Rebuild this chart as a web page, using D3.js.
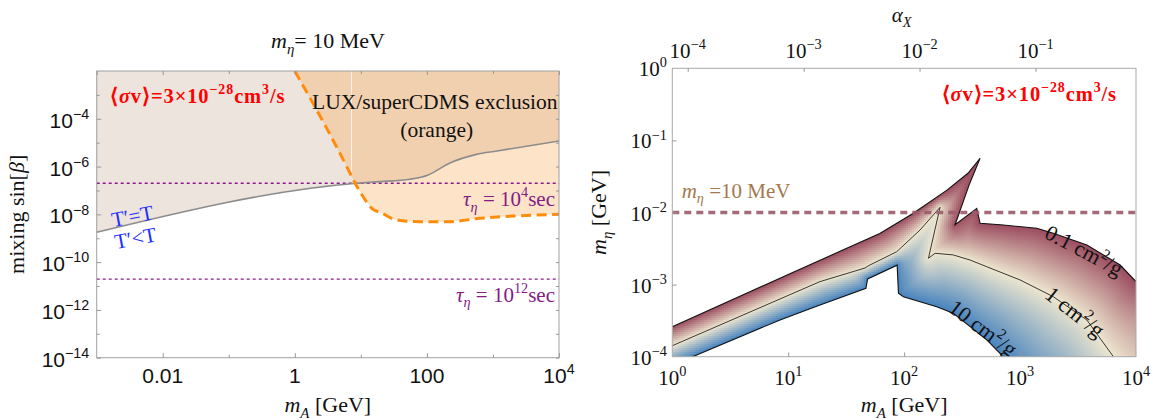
<!DOCTYPE html>
<html>
<head>
<meta charset="utf-8">
<script src="https://cdnjs.cloudflare.com/ajax/libs/d3/7.8.5/d3.min.js"></script>
<style>
  body { margin: 0; background: #fff; }
  svg text { font-family: "Liberation Serif", "Times New Roman", serif; fill: #111; }
  svg text.sans { font-family: "Liberation Sans", Arial, sans-serif; }
</style>
</head>
<body>
<svg id="chart" width="1153" height="420"></svg>
<script>
// left: mixing sin(beta) vs m_A at m_eta = 10 MeV
// right: m_eta vs m_A, coloured by sigma/m between 0.1 and 10 cm^2/g

// ---- left panel data ----
// T'=T boundary, grey line
var teqMA   = [0.001, 8.7, 19.5, 55, 105, 219, 562, 1150, 10000];
var teqSinB = [1.78e-9, 2.0e-7, 2.34e-7, 2.95e-7, 4.47e-7, 1.38e-6, 3.24e-6, 4.47e-6, 1.17e-5];

// LUX/superCDMS dashed boundary
var luxMA   = [1, 6.1, 7.7, 9.7, 15.5, 20, 28.2, 44.7, 79.4, 200, 631, 2040, 10000];
var luxSinB = [1e-2, 1e-6, 2.75e-7, 8.9e-8, 1.58e-8, 1.2e-8, 7.1e-9, 5.25e-9, 4.9e-9, 4.9e-9, 6.8e-9, 8.5e-9, 1e-8];

// lifetime lines tau_eta = 10^4 s and 10^12 s
var tauSinB = [2e-7, 1.95e-11];
var tauExp  = ["4", "12"];

// ---- right panel data: sigma/m contours (m_A in GeV, m_eta in GeV) ----
var c01MA  = [1, 10, 31.6, 61.7, 120, 234, 355, 452, 363, 275, 423, 452, 718, 1393, 1936, 3767, 7295, 10000];
var c01Eta = [2.61e-4, 1.38e-3, 3.16e-3, 5.13e-3, 9.77e-3, 2.04e-2, 3.5e-2, 5.65e-2, 2.4e-2, 6.76e-3, 1.14e-2, 7.08e-3, 6.71e-3, 6.04e-3, 5.15e-3, 3.54e-3, 1.87e-3, 1.1e-3];

var c1MA  = [1, 18.8, 46, 49, 86.3, 137, 204, 162, 185, 265, 371, 516, 1000, 1936, 3767, 6383, 10000];
var c1Eta = [1.42e-4, 1.1e-3, 1.7e-3, 1.82e-3, 2.86e-3, 5.71e-3, 1.18e-2, 2.32e-3, 2.72e-3, 2.58e-3, 2.19e-3, 1.77e-3, 1.16e-3, 6.79e-4, 3.23e-4, 1e-4, 4e-5];

var c10MA  = [1, 8.5, 18.8, 46.8, 48.4, 87, 89.3, 98.4, 137, 191, 265, 371, 516, 671, 1000, 10000];
var c10Eta = [7.6e-5, 3.24e-4, 5.2e-4, 8.9e-4, 1.2e-3, 1.86e-3, 7.57e-4, 6.79e-4, 5.79e-4, 4.93e-4, 4.0e-4, 2.61e-4, 1.71e-4, 1.11e-4, 5e-5, 3.2e-6];

var mEtaRef = 0.01;

var svg = d3.select("#chart");
var defs = svg.append("defs");

// text with italic / sub / sup pieces: segs = [[text, flags]], flags: i ^ _
function rich(parent, x, y, segs, size) {
    var t = parent.append("text").attr("x", x).attr("y", y)
        .attr("font-size", size).style("white-space", "pre");
    var cur = 0;
    segs.forEach(function(s) {
        var f = s[1] || "";
        var off = f.indexOf("^") >= 0 ? -0.42 * size : (f.indexOf("_") >= 0 ? 0.25 * size : 0);
        var sp = t.append("tspan").text(s[0]).attr("dy", off - cur);
        if (off !== 0) sp.attr("font-size", 0.68 * size);
        if (f.indexOf("i") >= 0) sp.attr("font-style", "italic");
        cur = off;
    });
    return t;
}

function tickAxis(axis, tx, ty, color) {
    svg.append("g")
        .attr("transform", `translate(${tx},${ty})`)
        .attr("color", color)
        .call(axis)
        .call(g => g.select(".domain").remove())
        .call(g => g.selectAll("text").remove());
}

var sigmaSegs = [["⟨", ""], ["σ", "i"], ["v⟩=3×10", ""], ["−28", "^"], ["cm", ""], ["3", "^"], ["/s", ""]];

// ================= left panel =================
var L = {x0: 96.7, x1: 559, y0: 71, y1: 357.7};
var xL = d3.scaleLog().domain([1e-3, 1e4]).range([L.x0, L.x1]);
var yL = d3.scaleLog().domain([1e-14, 1e-2]).range([L.y1, L.y0]);

defs.append("clipPath").attr("id", "clipL").append("rect")
    .attr("x", L.x0).attr("y", L.y0).attr("width", L.x1 - L.x0).attr("height", L.y1 - L.y0);

var gL = svg.append("g").attr("clip-path", "url(#clipL)");
var lineL = d3.line().x(d => xL(d[0])).y(d => yL(d[1])).curve(d3.curveMonotoneX);

var teq = d3.zip(teqMA, teqSinB);
var lux = d3.zip(luxMA, luxSinB);
var topRightL = "L" + xL(1e4) + "," + yL(1e-2);
var topLeftL = "L" + xL(1e-3) + "," + yL(1e-2);
var aboveTeq = lineL(teq) + topRightL + topLeftL + "Z";
var luxArea = lineL(lux) + topRightL + "Z";

defs.append("clipPath").attr("id", "clipLux").append("path").attr("d", luxArea);

gL.append("path").attr("d", aboveTeq).attr("fill", "#ede4dd");
gL.append("path").attr("d", luxArea).attr("fill", "#fde4c9");
gL.append("path").attr("d", aboveTeq).attr("fill", "#f1d0b0").attr("clip-path", "url(#clipLux)");

// thin light seam in the exclusion fill
gL.append("line")
    .attr("x1", xL(7.2)).attr("x2", xL(7.2))
    .attr("y1", yL(1e-2)).attr("y2", yL(6e-7))
    .attr("stroke", "#fff").attr("stroke-width", 1).attr("opacity", 0.75);

gL.selectAll(".tau")
    .data(tauSinB)
    .enter()
    .append("line")
    .attr("x1", L.x0).attr("x2", L.x1)
    .attr("y1", d => yL(d)).attr("y2", d => yL(d))
    .attr("stroke", "#8a1a8a").attr("stroke-width", 1.3)
    .attr("stroke-dasharray", "3,3");

gL.append("path").attr("d", lineL(teq))
    .attr("fill", "none").attr("stroke", "#8c8c8c").attr("stroke-width", 1.6);

gL.append("path").attr("d", lineL(lux))
    .attr("fill", "none").attr("stroke", "#ff8c0a").attr("stroke-width", 3)
    .attr("stroke-dasharray", "10,5.5");

// frame + ticks
svg.append("rect").attr("x", L.x0).attr("y", L.y0)
    .attr("width", L.x1 - L.x0).attr("height", L.y1 - L.y0)
    .attr("fill", "none").attr("stroke", "#a0a0a0").attr("stroke-width", 1);

var majXL = [0.01, 1, 100, 1e4], minXL = [0.1, 10, 1000];
var majYL = [1e-14, 1e-12, 1e-10, 1e-8, 1e-6, 1e-4];
var minYL = [1e-13, 1e-11, 1e-9, 1e-7, 1e-5, 1e-3];
tickAxis(d3.axisBottom(xL).tickValues(majXL).tickSize(-4.5), 0, L.y1, "#999");
tickAxis(d3.axisBottom(xL).tickValues(minXL).tickSize(-3), 0, L.y1, "#999");
tickAxis(d3.axisTop(xL).tickValues(majXL.concat([1e-3])).tickSize(-4), 0, L.y0, "#999");
tickAxis(d3.axisTop(xL).tickValues(minXL).tickSize(-3), 0, L.y0, "#999");
tickAxis(d3.axisLeft(yL).tickValues(majYL).tickSize(-4.5), L.x0, 0, "#999");
tickAxis(d3.axisLeft(yL).tickValues(minYL).tickSize(-3), L.x0, 0, "#999");
tickAxis(d3.axisRight(yL).tickValues(majYL.concat(minYL)).tickSize(-3), L.x1, 0, "#999");

// tick labels (sans)
var xLabL = [["0.01"], ["1"], ["100"], ["10", "4"]];
majXL.forEach(function(v, i) {
    var segs = [[xLabL[i][0], ""]];
    if (xLabL[i][1]) segs.push([xLabL[i][1], "^"]);
    rich(svg, xL(v), L.y1 + 25.6, segs, 21).attr("class", "sans").attr("text-anchor", "middle");
});
var yExpL = ["−14", "−12", "−10", "−8", "−6", "−4"];
majYL.forEach(function(v, i) {
    rich(svg, L.x0 - 7.5, yL(v) + 9, [["10", ""], [yExpL[i], "^"]], 21)
        .attr("class", "sans").attr("text-anchor", "end");
});

// titles
rich(svg, 328, 48, [["m", "i"], ["η", "i_"], ["= 10 MeV", ""]], 22).attr("text-anchor", "middle");
rich(svg, (L.x0 + L.x1) / 2, 412, [["m", "i"], ["A", "i_"], [" [GeV]", ""]], 22).attr("text-anchor", "middle");
rich(svg, 0, 0, [["mixing sin[", ""], ["β", "i"], ["]", ""]], 22)
    .attr("text-anchor", "middle")
    .attr("transform", `translate(24,${(L.y0 + L.y1) / 2}) rotate(-90)`);

// annotations
rich(svg, 110, 102.7, sigmaSegs, 20.5)
    .attr("font-weight", "bold").attr("letter-spacing", 0.9).style("fill", "#ff0000");
svg.append("text").attr("x", 557.5).attr("y", 108.5).attr("text-anchor", "end")
    .attr("font-size", 21.5).text("LUX/superCDMS exclusion");
svg.append("text").attr("x", 436.7).attr("y", 137).attr("text-anchor", "middle")
    .attr("font-size", 21.5).text("(orange)");
tauSinB.forEach(function(v, i) {
    rich(svg, 555, yL(v) + 23, [["τ", "i"], ["η", "i_"], [" = 10", ""], [tauExp[i], "^"], ["sec", ""]], 21)
        .attr("text-anchor", "end").style("fill", "#841a84");
});
var slopeAng = -10.6;
svg.append("text").attr("transform", `translate(113,227) rotate(${slopeAng})`)
    .attr("font-size", 21).style("fill", "#1f2fff").text("T′=T");
svg.append("text").attr("transform", `translate(116,249) rotate(${slopeAng})`)
    .attr("font-size", 21).style("fill", "#1f2fff").text("T′<T");

// ================= right panel =================
var R = {x0: 672.3, x1: 1136, y0: 68.3, y1: 356.7};
var xR = d3.scaleLog().domain([1, 1e4]).range([R.x0, R.x1]);
var yR = d3.scaleLog().domain([1e-4, 1]).range([R.y1, R.y0]);
// alpha_X along the top, proportional to m_A
var xTop = d3.scaleLog().domain([Math.pow(10, -4.133), Math.pow(10, -0.133)]).range([R.x0, R.x1]);

defs.append("clipPath").attr("id", "clipR").append("rect")
    .attr("x", R.x0).attr("y", R.y0).attr("width", R.x1 - R.x0).attr("height", R.y1 - R.y0);

var toPx = (ma, eta) => d3.zip(ma, eta).map(p => [xR(p[0]), yR(p[1])]);
var uP = toPx(c01MA, c01Eta);
var mP = toPx(c1MA, c1Eta);
var lP = toPx(c10MA, c10Eta);
var region = uP.concat(lP.slice().reverse());
var upperZone = uP.concat(mP.slice().reverse());

defs.append("clipPath").attr("id", "clipRegion").append("path")
    .attr("d", d3.line()(region) + "Z");

function segDist(px, py, a, b) {
    var dx = b[0] - a[0], dy = b[1] - a[1];
    var l2 = dx * dx + dy * dy;
    var t = l2 ? ((px - a[0]) * dx + (py - a[1]) * dy) / l2 : 0;
    t = Math.max(0, Math.min(1, t));
    var ex = a[0] + t * dx - px, ey = a[1] + t * dy - py;
    return Math.sqrt(ex * ex + ey * ey);
}
function polyDist(px, py, pts) {
    var m = Infinity;
    for (var k = 1; k < pts.length; k++) m = Math.min(m, segDist(px, py, pts[k - 1], pts[k]));
    return m;
}

// colour field: 0 at 0.1 cm^2/g, 0.5 at 1 cm^2/g, 1 at 10 cm^2/g
var cell = 2;
var cells = [];
for (var cx0 = Math.floor(R.x0); cx0 < R.x1; cx0 += cell) {
    for (var cy0 = 150; cy0 < R.y1; cy0 += cell) {
        var px = cx0 + cell / 2, py = cy0 + cell / 2;
        var inside = d3.polygonContains(region, [px, py]);
        var du = polyDist(px, py, uP), dl = polyDist(px, py, lP);
        if (!inside && Math.min(du, dl) > 3) continue;
        var t;
        if (!inside) t = du < dl ? 0 : 1;
        else {
            var dm = polyDist(px, py, mP);
            if (d3.polygonContains(upperZone, [px, py])) t = 0.5 * du / (du + dm);
            else t = 0.5 + 0.5 * dm / (dm + dl);
        }
        cells.push({x: cx0, y: cy0, t: t});
    }
}
var color = d3.scaleLinear().domain([0, 0.5, 1]).range(["#9b4c5f", "#ede6cf", "#4783be"]);

var gR = svg.append("g").attr("clip-path", "url(#clipR)");
gR.append("g").attr("clip-path", "url(#clipRegion)")
    .selectAll("rect")
    .data(cells)
    .enter()
    .append("rect")
    .attr("x", d => d.x).attr("y", d => d.y)
    .attr("width", cell + 0.4).attr("height", cell + 0.4)
    .attr("shape-rendering", "crispEdges")
    .attr("fill", d => color(d.t));

var lineR = d3.line();
gR.append("path").attr("d", lineR(uP)).attr("fill", "none").attr("stroke", "#111").attr("stroke-width", 1.1);
gR.append("path").attr("d", lineR(lP)).attr("fill", "none").attr("stroke", "#111").attr("stroke-width", 1.1);
gR.append("path").attr("d", lineR(mP)).attr("fill", "none").attr("stroke", "#222").attr("stroke-width", 0.9);

gR.append("line")
    .attr("x1", R.x0).attr("x2", R.x1)
    .attr("y1", yR(mEtaRef)).attr("y2", yR(mEtaRef))
    .attr("stroke", "#9c5a6c").attr("stroke-width", 3.4)
    .attr("stroke-dasharray", "7,5").attr("opacity", 0.9);

// contour labels
var cLabels = [
    {txt: "0.1", ma: 3784, eta: 3.54e-3, rot: 28, dy: "0.62em"},
    {txt: "1", ma: 2985, eta: 4.19e-4, rot: 38, dy: "0.35em"},
    {txt: "10", ma: 480, eta: 2.5e-4, rot: 37, dy: "0.35em"}
];
cLabels.forEach(function(c) {
    rich(gR, 0, 0, [[c.txt + " cm", ""], ["2", "^"], ["/g", ""]], 22)
        .attr("text-anchor", "middle")
        .attr("transform", `translate(${xR(c.ma)},${yR(c.eta)}) rotate(${c.rot})`)
        .select("tspan").attr("dy", c.dy);
});

svg.append("rect").attr("x", R.x0).attr("y", R.y0)
    .attr("width", R.x1 - R.x0).attr("height", R.y1 - R.y0)
    .attr("fill", "none").attr("stroke", "#a8a8a8").attr("stroke-width", 1);

tickAxis(d3.axisBottom(xR).tickValues([10, 100, 1000]).tickSize(-4.3), 0, R.y1, "#999");
tickAxis(d3.axisLeft(yR).tickValues([1e-3, 1e-2, 1e-1]).tickSize(-4.3), R.x0, 0, "#999");
tickAxis(d3.axisTop(xTop).tickValues([1e-4, 1e-3, 1e-2, 1e-1]).tickSize(-3.5), 0, R.y0, "#999");

[0, 1, 2, 3, 4].forEach(function(e) {
    rich(svg, xR(Math.pow(10, e)), 385, [["10", ""], [String(e), "^"]], 21).attr("text-anchor", "middle");
});
[0, -1, -2, -3, -4].forEach(function(e) {
    rich(svg, R.x0 - 5.5, yR(Math.pow(10, e)) + 8, [["10", ""], [e === 0 ? "0" : "−" + (-e), "^"]], 21)
        .attr("text-anchor", "end");
});
[-4, -3, -2, -1].forEach(function(e) {
    rich(svg, xTop(Math.pow(10, e)), 58, [["10", ""], ["−" + (-e), "^"]], 21).attr("text-anchor", "middle");
});

rich(svg, 901.7, 22, [["α", "i"], ["X", "i_"]], 21).attr("text-anchor", "middle");
rich(svg, (R.x0 + R.x1) / 2, 412, [["m", "i"], ["A", "i_"], [" [GeV]", ""]], 22).attr("text-anchor", "middle");
rich(svg, 0, 0, [["m", "i"], ["η", "i_"], [" [GeV]", ""]], 22)
    .attr("text-anchor", "middle")
    .attr("transform", `translate(606,${(R.y0 + R.y1) / 2}) rotate(-90)`);

rich(svg, 1117, 101, sigmaSegs, 20.5)
    .attr("text-anchor", "end").attr("font-weight", "bold").attr("letter-spacing", 0.9)
    .style("fill", "#ff0000");
rich(svg, 681.7, 198, [["m", "i"], ["η", "i_"], [" =10 MeV", ""]], 21).style("fill", "#a5774b");
</script>
</body>
</html>
